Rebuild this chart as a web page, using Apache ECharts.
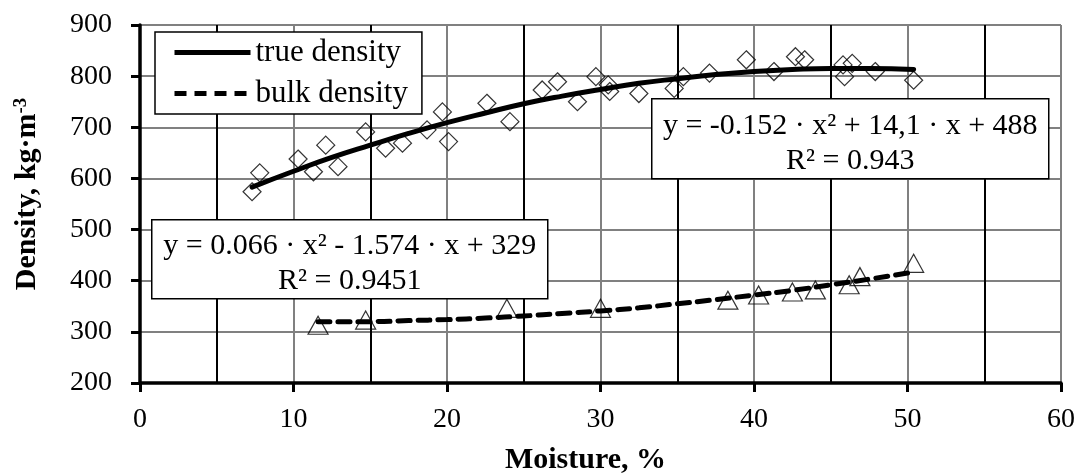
<!DOCTYPE html>
<html>
<head>
<meta charset="utf-8">
<script src="https://cdn.jsdelivr.net/npm/echarts@6/dist/echarts.min.js"></script>
<style>
html,body{margin:0;padding:0;background:#fff;}
#chart{width:1080px;height:473px;}
</style>
</head>
<body>
<div id="chart"></div>
<script>
// ---- data ----
const trueX = [7.3,7.8,10.3,11.3,12.1,12.9,14.7,16.0,17.1,18.7,19.7,20.1,22.6,24.1,26.2,27.2,28.5,29.7,30.5,30.6,32.5,34.8,35.4,37.1,39.5,41.3,42.7,43.3,45.8,46.4,45.9,47.9,50.4];
const trueY = [574,611,638,613,665,623,691,659,669,695,730,672,747,711,773,789,750,799,783,770,766,776,799,806,832,809,838,832,822,825,799,809,792];
const bulkX = [11.6,14.7,23.9,30.0,38.3,40.3,42.5,44.0,46.2,46.9,50.4];
const bulkY = [313,323,346,346,362,372,378,382,392,408,434];
// trend lines
const trueFitX = [7.3,10,12.5,15,17.5,20,22.5,25,27.5,30,32.5,35,37.5,40,42.5,45,47.5,50.4];
const trueFitY = [583,614,641,665,688,709,728,746,761,774,786,795,803,809,813,815,815,813];
const bulkFitX = [11.6,15,17.5,20,22.5,25,27.5,30,32.5,35,37.5,40,42.5,45,47.5,50.4];
const bulkFitY = [320,320,322,324,327,331,336,341,347,355,363,372,381,392,403,417];
const seriesNames = ['true density','bulk density'];
const xTicks = {min:0, max:60, step:10};
const yTicks = {min:200, max:900, step:100};
const eqTrue = ['y = -0.152 · x² + 14,1 · x + 488', 'R² = 0.943'];
const eqBulk = ['y = 0.066 · x² - 1.574 · x + 329', 'R² = 0.9451'];
const xName = 'Moisture, %';
const yNameMain = 'Density, kg·m';
const yNameSup = '-3';

const zip = (a,b) => a.map((v,i) => [v, b[i]]);
const FONT = "'Liberation Serif','Times New Roman',serif";

const chart = echarts.init(document.getElementById('chart'), null, {renderer:'canvas'});

function eqBox(lines, x, y, w, h, fs) {
  return {
    type:'group', left:x, top:y,
    children:[
      {type:'rect', z:100, shape:{x:0,y:0,width:w,height:h}, style:{fill:'#ffffff', stroke:'#000', lineWidth:1.5}},
      {type:'text', z:101, x:w/2, y:h/2 - 13, style:{text:lines[0], font: fs+"px "+FONT, fill:'#000', align:'center', verticalAlign:'middle'}},
      {type:'text', z:101, x:w/2, y:h/2 + 22, style:{text:lines[1], font: fs+"px "+FONT, fill:'#000', align:'center', verticalAlign:'middle'}}
    ]
  };
}

const option = {
  backgroundColor:'#fff',
  animation:false,
  grid:{left:140, right:19, top:25, bottom:90, containLabel:false, outerBoundsMode:'none'},
  legend:{
    data:seriesNames,
    orient:'vertical',
    left:155, top:32,
    padding:[5,14,5,17],
    itemGap:10,
    itemWidth:76, itemHeight:14,
    backgroundColor:'#fff',
    borderColor:'#000', borderWidth:1.5,
    textStyle:{fontFamily:FONT, fontSize:31, color:'#000'},
    itemStyle:{color:'rgba(0,0,0,0)', borderColor:'rgba(0,0,0,0)', borderWidth:0, opacity:0},
    lineStyle:{width:5, color:'#000', cap:'butt'},
    z:50
  },
  xAxis:{
    type:'value', min:xTicks.min, max:xTicks.max, interval:xTicks.step,
    name:xName, nameLocation:'middle', nameGap:62,
    nameTextStyle:{fontFamily:FONT, fontSize:30, fontWeight:'bold', color:'#000', padding:[0,30,0,0]},
    axisLine:{show:true, onZero:false, lineStyle:{color:'#000', width:3.5}},
    axisTick:{show:true, inside:false, length:9, lineStyle:{color:'#000', width:3}},
    axisLabel:{fontFamily:FONT, fontSize:28, color:'#000', margin:23},
    splitLine:{show:true, lineStyle:{color:'#808080', width:2}},
    minorTick:{show:false, splitNumber:2},
    minorSplitLine:{show:true, lineStyle:{color:'#000', width:2}}
  },
  yAxis:{
    type:'value', min:yTicks.min, max:yTicks.max, interval:yTicks.step,
    name:'{b|'+yNameMain+'}{s|'+yNameSup+'}', nameLocation:'middle', nameGap:98,
    nameRotate:90,
    nameTextStyle:{
      color:'#000',
      padding:[0,0,0,20],
      rich:{
        b:{fontFamily:FONT, fontSize:30, fontWeight:'bold', color:'#000'},
        s:{fontFamily:FONT, fontSize:19, fontWeight:'bold', color:'#000', verticalAlign:'top'}
      }
    },
    axisLine:{show:true, onZero:false, lineStyle:{color:'#000', width:3.5}},
    axisTick:{show:true, inside:false, length:9, lineStyle:{color:'#000', width:3}},
    axisLabel:{fontFamily:FONT, fontSize:28, color:'#000', margin:28},
    splitLine:{show:true, lineStyle:{color:'#808080', width:2}}
  },
  graphic:[
    eqBox(eqTrue, 651, 98, 397, 80, 30),
    eqBox(eqBulk, 151, 219, 396, 79, 30)
  ],
  series:[
    {
      name:'true data', type:'scatter', data:zip(trueX,trueY),
      symbol:'diamond', symbolSize:18, z:2,
      itemStyle:{color:'rgba(0,0,0,0)', borderColor:'#000', borderWidth:1.2}
    },
    {
      name:'bulk data', type:'scatter', data:zip(bulkX,bulkY),
      symbol:'triangle', symbolSize:[20,18], z:2,
      itemStyle:{color:'rgba(0,0,0,0)', borderColor:'#000', borderWidth:1.2}
    },
    {
      name:seriesNames[0], type:'line', data:zip(trueFitX,trueFitY),
      smooth:0.5, symbol:'none', showSymbol:false, z:5,
      lineStyle:{color:'#000', width:5, type:'solid', cap:'round'},
      itemStyle:{color:'#000'}
    },
    {
      name:seriesNames[1], type:'line', data:zip(bulkFitX,bulkFitY),
      smooth:0.5, symbol:'none', showSymbol:false, z:5,
      lineStyle:{color:'#000', width:5, type:[12,8], cap:'round'},
      itemStyle:{color:'#000'}
    }
  ]
};
chart.setOption(option);
</script>
</body>
</html>
